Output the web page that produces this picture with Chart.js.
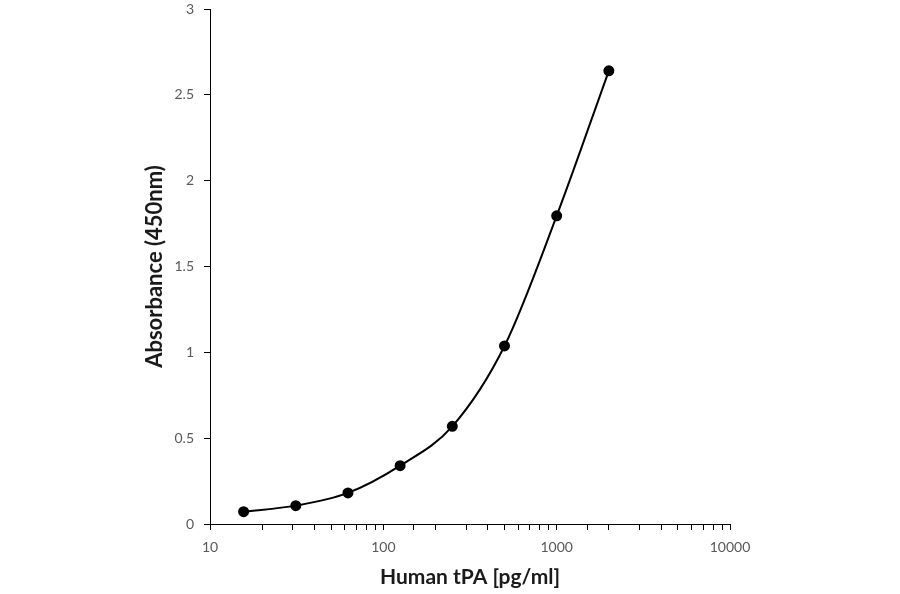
<!DOCTYPE html>
<html>
<head>
<meta charset="utf-8">
<script src="https://cdn.jsdelivr.net/npm/chart.js@4"></script>
<style>
  html, body { margin: 0; padding: 0; background: #fff; }
  #wrap { width: 900px; height: 594px; }
</style>
</head>
<body>
<div id="wrap"><canvas id="c" width="900" height="594"></canvas></div>
<script>
const concentrations = [15.625, 31.25, 62.5, 125, 250, 500, 1000, 2000];
const absorbance = [0.072, 0.107, 0.181, 0.340, 0.569, 1.037, 1.795, 2.640];
const xTickLabels = ['10', '100', '1000', '10000'];
const xTitle = 'Human tPA [pg/ml]';
const yTitle = 'Absorbance (450nm)';

const points = concentrations.map((c, i) => ({ x: c, y: absorbance[i] }));
const FONT = "Lato, 'Open Sans', 'Liberation Sans', sans-serif";

new Chart(document.getElementById('c'), {
  type: 'line',
  data: {
    datasets: [{
      data: points,
      borderColor: '#000',
      backgroundColor: '#000',
      borderWidth: 2,
      pointRadius: 4.5,
      pointHoverRadius: 4.5,
      pointBackgroundColor: '#000',
      pointBorderColor: '#000',
      cubicInterpolationMode: 'monotone',
      fill: false
    }]
  },
  options: {
    responsive: false,
    animation: false,
    devicePixelRatio: 1,
    layout: { padding: { left: 138, right: 170, top: 9, bottom: 0 } },
    plugins: { legend: { display: false }, tooltip: { enabled: false } },
    scales: {
      x: {
        type: 'logarithmic',
        min: 10,
        max: 10000,
        afterFit: s => { s.height = 70; s.paddingLeft = 0; s.paddingRight = 0; },
        grid: { display: true, drawOnChartArea: false, drawTicks: true, tickLength: 6, color: '#000' },
        border: { display: true, color: '#000', width: 1 },
        ticks: {
          autoSkip: false,
          maxRotation: 0,
          padding: 9,
          color: '#595959',
          font: { family: FONT, size: 14 },
          callback: function (v) {
            const s = String(v);
            return xTickLabels.includes(s) ? s : '';
          }
        },
        title: {
          display: true,
          text: xTitle,
          color: '#1a1a1a',
          padding: { top: 4, bottom: 4 },
          font: { family: FONT, size: 21, weight: 'bold' }
        }
      },
      y: {
        min: 0,
        max: 3,
        afterFit: s => { s.width = 72; s.paddingTop = 0; s.paddingBottom = 0; },
        grid: { display: true, drawOnChartArea: false, drawTicks: true, tickLength: 6, color: '#000' },
        border: { display: true, color: '#000', width: 1 },
        ticks: {
          stepSize: 0.5,
          padding: 10,
          color: '#595959',
          font: { family: FONT, size: 14 },
          callback: v => String(Math.round(v * 10) / 10)
        },
        title: {
          display: true,
          text: yTitle,
          color: '#1a1a1a',
          padding: { top: 4, bottom: 4 },
          font: { family: FONT, size: 22, weight: 'bold' }
        }
      }
    }
  }
});
</script>
</body>
</html>
